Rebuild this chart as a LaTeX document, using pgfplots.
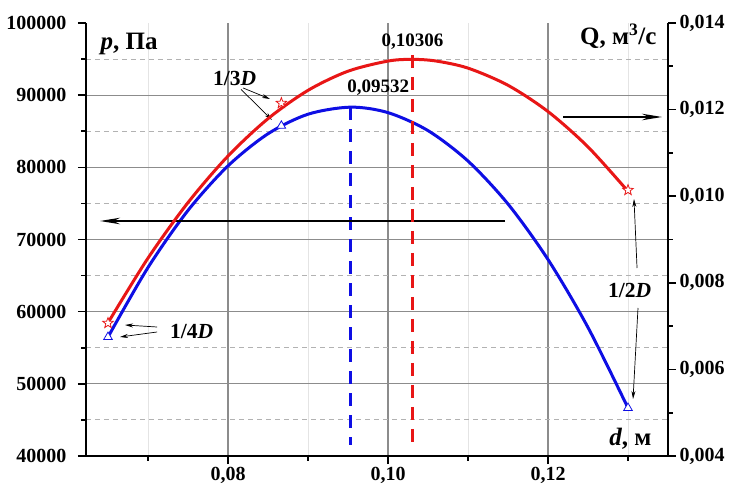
\documentclass[border=0pt]{standalone}
\usepackage{fontspec}
\setmainfont{Liberation Serif}
\usepackage{pgfplots}
\pgfplotsset{compat=1.18}
\usetikzlibrary{arrows.meta}

\definecolor{curvered}{RGB}{232,22,22}
\definecolor{curveblue}{RGB}{14,14,228}
\definecolor{majgrid}{RGB}{140,140,140}
\definecolor{mingrid}{RGB}{178,178,178}
\definecolor{minxgrid}{RGB}{228,228,228}

\newcommand{\tickfont}{\fontsize{20bp}{24bp}\selectfont\bfseries}
\newcommand{\labfont}{\fontsize{25bp}{29bp}\selectfont\bfseries}
\newcommand{\notefont}{\fontsize{19bp}{23bp}\selectfont\bfseries}
\newcommand{\fracfont}{\fontsize{21.5bp}{25bp}\selectfont\bfseries}

% hollow five-pointed star
\pgfdeclareplotmark{pentastar}{%
  \pgfpathmoveto{\pgfpointpolar{90}{\pgfplotmarksize}}%
  \pgfpathlineto{\pgfpointpolar{126}{0.42\pgfplotmarksize}}%
  \pgfpathlineto{\pgfpointpolar{162}{\pgfplotmarksize}}%
  \pgfpathlineto{\pgfpointpolar{198}{0.42\pgfplotmarksize}}%
  \pgfpathlineto{\pgfpointpolar{234}{\pgfplotmarksize}}%
  \pgfpathlineto{\pgfpointpolar{270}{0.42\pgfplotmarksize}}%
  \pgfpathlineto{\pgfpointpolar{306}{\pgfplotmarksize}}%
  \pgfpathlineto{\pgfpointpolar{342}{0.42\pgfplotmarksize}}%
  \pgfpathlineto{\pgfpointpolar{18}{\pgfplotmarksize}}%
  \pgfpathlineto{\pgfpointpolar{54}{0.42\pgfplotmarksize}}%
  \pgfpathclose
  \pgfusepathqfillstroke
}

% pressure p(d), Pa
\pgfplotstableread{
d        p
0.06500  56480
0.07000  66120
0.07500  74030
0.08000  80200
0.08500  84650
0.09000  87360
0.09532  88340
0.10000  87580
0.10500  85090
0.11000  80870
0.11500  74920
0.12000  67230
0.12500  57810
0.13000  46650
}\pdata

% flow rate Q(d), m^3/s
\pgfplotstableread{
d        Q
0.06500  0.007076
0.07000  0.008570
0.07500  0.009853
0.08000  0.010927
0.08500  0.011790
0.09000  0.012444
0.09500  0.012887
0.10000  0.013121
0.10306  0.013160
0.10600  0.013122
0.11000  0.012958
0.11500  0.012561
0.12000  0.011955
0.12500  0.011138
0.13000  0.010112
}\qdata

\pgfplotsset{
  common/.style={
    scale only axis, width=582bp, height=433bp,
    xmin=0.06225, xmax=0.135,
    scaled x ticks=false, scaled y ticks=false,
    tick align=outside,
    major tick length=8bp, minor tick length=4.5bp,
    every tick/.append style={black, line width=1.6bp},
    every minor tick/.append style={black, line width=1.6bp},
    axis line style={black, line width=2.6bp},
    ticklabel style={font=\tickfont},
    clip=false,
  }
}

\begin{document}
\begin{tikzpicture}
% left axis: pressure
\begin{axis}[common,
  ymin=40000, ymax=100000,
  axis x line*=bottom, axis y line*=left,
  xtick={0.08,0.10,0.12},
  xticklabels={{0,08},{0,10},{0,12}},
  minor xtick={0.07,0.09,0.11,0.13},
  ytick={40000,50000,60000,70000,80000,90000},
  yticklabels={40000,50000,60000,70000,80000,90000},
  extra y ticks={100000},
  extra y tick labels={100000},
  extra y tick style={grid=none},
  yticklabel style={xshift=-8bp},
  minor ytick={45000,55000,65000,75000,85000,95000},
  grid=both,
  major grid style={majgrid, line width=1.1bp},
  minor y grid style={mingrid, line width=0.9bp, dash pattern=on 5bp off 4bp},
  minor x grid style={minxgrid, line width=0.8bp},
]
\coordinate (sw) at (rel axis cs:0,0);
\coordinate (ne) at (rel axis cs:1,1);

\addplot[curveblue, line width=3bp, smooth] table[x=d, y=p] {\pdata};
\addplot[curveblue, line width=2.8bp, dash pattern=on 13bp off 9bp]
  coordinates {(0.09532,88340) (0.09532,41524)};
\addplot[only marks, mark=triangle*, mark size=5bp,
  mark options={draw=curveblue, fill=white, line width=0.8bp}]
  coordinates {(0.06500,56480) (0.08667,85750) (0.13000,46650)};

% axis titles
\node[anchor=base west, font=\labfont] at (axis cs:0.06363,96260) {\textit{p}, Па};
\node[anchor=base east, font=\labfont] at (axis cs:0.1340,96953) {Q, м\textsuperscript{3}/с};
\node[anchor=base east, font=\labfont] at (axis cs:0.13338,41524) {\textit{d}, м};

% optimum diameters
\node[anchor=base, font=\notefont] at (axis cs:0.10306,96675) {0,10306};
\node[anchor=base west, font=\notefont, inner sep=0pt] at (axis cs:0.09490,90301) {0,09532};

% which curve belongs to which scale
\draw[-{Stealth[length=20bp,width=6.5bp]}, line width=1.3bp]
  (axis cs:0.11463,72564) -- (axis cs:0.0640,72564);
\draw[-{Stealth[length=20bp,width=6.5bp]}, line width=1.3bp]
  (axis cs:0.12188,86976) -- (axis cs:0.13425,86976);

% fractions of D
\node[anchor=base west, font=\fracfont, inner sep=0pt] at (axis cs:0.07813,91271) {1/3\textit{D}};
\draw[-{Stealth[length=8bp,width=4bp]}, line width=0.7bp]
  (axis cs:0.08188,91000) -- (axis cs:0.08525,89470);
\draw[-{Stealth[length=8bp,width=4bp]}, line width=0.7bp]
  (axis cs:0.08163,90800) -- (axis cs:0.08550,86560);

\node[anchor=base west, font=\fracfont, inner sep=0pt] at (axis cs:0.07275,56351) {1/4\textit{D}};
\draw[-{Stealth[length=8bp,width=4bp]}, line width=0.7bp]
  (axis cs:0.07113,57876) -- (axis cs:0.06713,58153);
\draw[-{Stealth[length=8bp,width=4bp]}, line width=0.7bp]
  (axis cs:0.07113,57183) -- (axis cs:0.06650,56490);

\node[anchor=base west, font=\fracfont, inner sep=0pt] at (axis cs:0.1275,62032) {1/2\textit{D}};
\draw[-{Stealth[length=8bp,width=4bp]}, line width=0.7bp]
  (axis cs:0.13113,66051) -- (axis cs:0.13075,75613);
\draw[-{Stealth[length=8bp,width=4bp]}, line width=0.7bp]
  (axis cs:0.13125,60509) -- (axis cs:0.13063,47899);
\end{axis}

% right axis: flow rate
\begin{axis}[common,
  ymin=0.004, ymax=0.014,
  axis x line=none, axis y line*=right,
  ytick={0.004,0.006,0.008,0.010,0.012,0.014},
  yticklabels={{0,004},{0,006},{0,008},{0,010},{0,012},{0,014}},
  minor ytick={0.005,0.007,0.009,0.011,0.013},
]
\addplot[curvered, line width=3bp, smooth] table[x=d, y=Q] {\qdata};
\addplot[curvered, line width=2.8bp, dash pattern=on 13bp off 9bp]
  coordinates {(0.10306,0.013261) (0.10306,0.004139)};
\addplot[only marks, mark=pentastar, mark size=5.5bp,
  mark options={draw=curvered, fill=white, line width=0.8bp}]
  coordinates {(0.06500,0.00707) (0.08667,0.01215) (0.13000,0.01014)};
\end{axis}

\pgfresetboundingbox
\path[use as bounding box] ([xshift=-86bp,yshift=-32bp]sw) rectangle ([xshift=63bp,yshift=23bp]ne);
\end{tikzpicture}
\end{document}
